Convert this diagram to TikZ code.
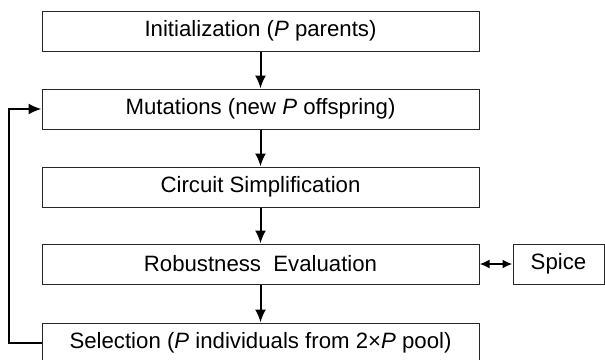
\documentclass[tikz,border=0pt]{standalone}
\usepackage{fontspec}
\setmainfont{Liberation Sans}
\usetikzlibrary{arrows.meta, positioning}

\tikzset{
  stagebox/.style={draw=black!85, line width=0.5pt, minimum width=218.5pt, minimum height=20pt, inner sep=0pt, font=\fontsize{11.1}{11.1}\selectfont},
  toolbox/.style={draw=black!85, line width=0.5pt, minimum width=45.5pt, minimum height=20pt, inner sep=0pt, font=\fontsize{11.1}{11.1}\selectfont},
  flow/.style={line width=1pt, -{Latex[length=6.5pt, width=5.5pt]}},
  both/.style={line width=1pt, {Latex[length=5pt, width=4.5pt]}-{Latex[length=5pt, width=4.5pt]}}
}

\begin{document}
\begin{tikzpicture}[x=0.5pt, y=-0.5pt]
  \useasboundingbox (0,0) rectangle (605,359);

  % Main flow of the evolutionary loop
  \node[stagebox] (init) at (260.5, 31) {Initialization (\textit{P} parents)};
  \node[stagebox] (mut)  at (260.5, 109) {Mutations (new \textit{P} offspring)};
  \node[stagebox] (simp) at (260.5, 187) {Circuit Simplification};
  \node[stagebox] (eval) at (260.5, 264) {Robustness\ \ Evaluation};
  \node[stagebox] (sel)  at (260.5, 343) {Selection (\textit{P} individuals from 2×\textit{P} pool)};

  % Simulator
  \node[toolbox] (spice) at (558.5, 264) {Spice};

  % Arrows down
  \draw[flow] (init) -- (mut);
  \draw[flow] (mut) -- (simp);
  \draw[flow] (simp) -- (eval);
  \draw[flow] (eval) -- (sel);
  \draw[both] (eval) -- (spice);

  % Feedback to mutations
  \coordinate (loopbot) at (8.5, 343);
  \coordinate (looptop) at (8.5, 109);
  \draw[flow] (sel.west) -- (loopbot) -- (looptop) -- (mut.west);
\end{tikzpicture}
\end{document}
